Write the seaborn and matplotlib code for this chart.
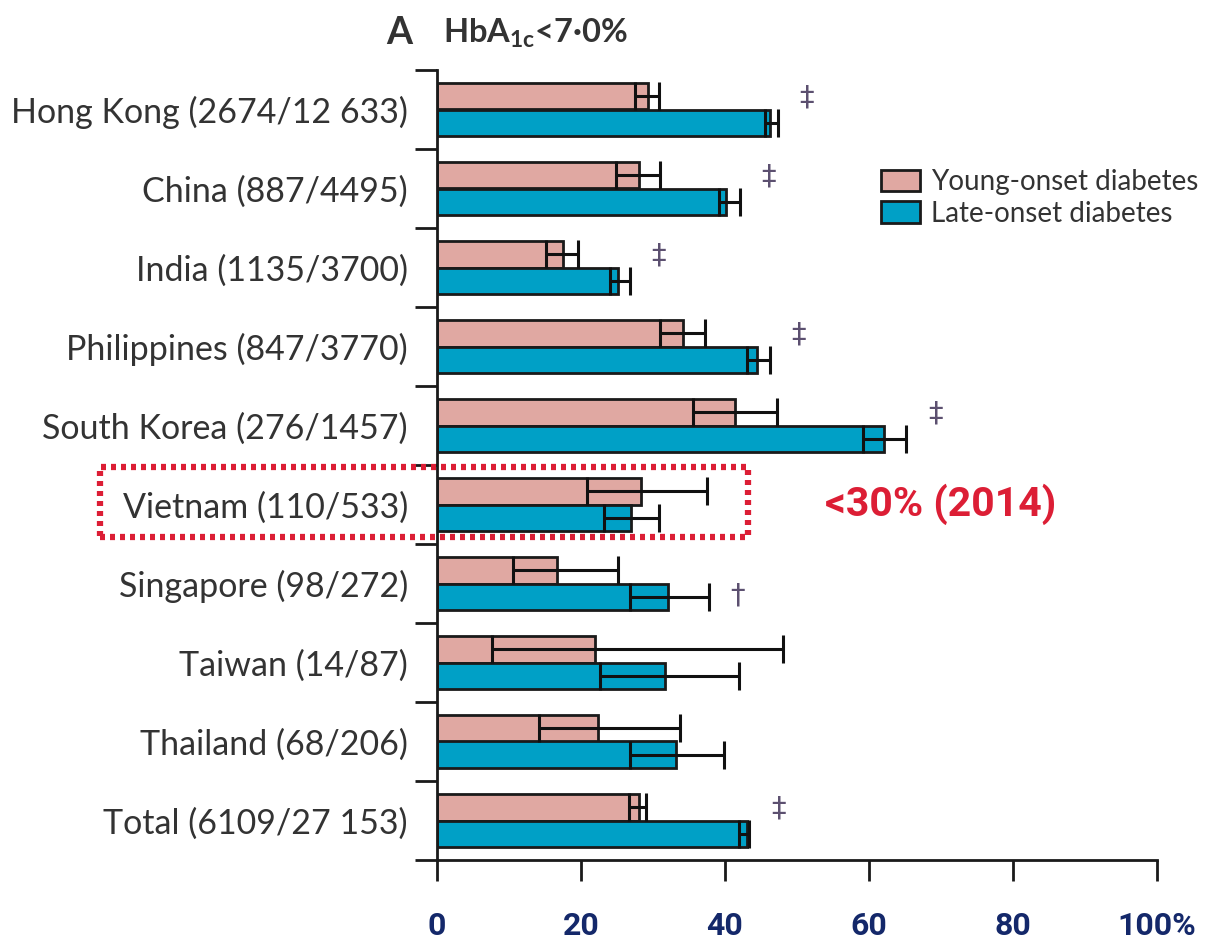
import numpy as np
import pandas as pd
import seaborn as sns
import matplotlib.pyplot as plt
from matplotlib.patches import Patch, Rectangle

countries = ["Hong Kong (2674/12 633)", "China (887/4495)", "India (1135/3700)",
             "Philippines (847/3770)", "South Korea (276/1457)", "Vietnam (110/533)",
             "Singapore (98/272)", "Taiwan (14/87)", "Thailand (68/206)",
             "Total (6109/27 153)"]
young = [29.3, 28.0, 17.5, 34.2, 41.4, 28.4, 16.6, 21.9, 22.4, 28.0]
young_lo = [27.5, 24.8, 15.2, 31.0, 35.6, 20.9, 10.5, 7.7, 14.1, 26.6]
young_hi = [30.8, 31.0, 19.6, 37.2, 47.2, 37.5, 25.1, 48.1, 33.7, 29.0]
late = [46.3, 40.2, 25.2, 44.4, 62.1, 27.0, 32.1, 31.6, 33.2, 43.0]
late_lo = [45.6, 39.1, 24.0, 43.0, 59.2, 23.2, 26.8, 22.7, 26.8, 41.9]
late_hi = [47.3, 42.1, 26.8, 46.2, 65.2, 30.9, 37.8, 41.9, 39.8, 43.4]
sig = ["‡", "‡", "‡", "‡", "‡", "", "†", "", "", "‡"]
groups = ["Young-onset diabetes", "Late-onset diabetes"]
xticks = [0, 20, 40, 60, 80, 100]
xticklabels = ["0", "20", "40", "60", "80", "100%"]

PINK = "#e0a8a2"
BLUE = "#00a0c6"
TXT = "#333333"
NAVY = "#14286a"
RED = "#dc1e35"

sns.set_style("white")
plt.rcParams['font.family'] = ['Lato', 'DejaVu Sans']

df = pd.DataFrame({
    "country": countries * 2,
    "value": young + late,
    "group": [groups[0]] * len(countries) + [groups[1]] * len(countries),
})

fig = plt.figure(figsize=(12.07, 9.43), dpi=100)
ax = fig.add_axes([437 / 1207, 1 - 860 / 943, 720 / 1207, 790 / 943])

sns.barplot(data=df, y="country", x="value", hue="group", orient="h",
            palette=[PINK, BLUE], saturation=1, width=0.66, edgecolor="#1a1a1a",
            linewidth=2, errorbar=None, ax=ax, legend=False)

pos = np.arange(len(countries))
off = 0.165
for vals, lo, hi, sgn in [(young, young_lo, young_hi, -1), (late, late_lo, late_hi, 1)]:
    vals = np.array(vals)
    err = [vals - np.array(lo), np.array(hi) - vals]
    ax.errorbar(vals, pos + sgn * off, xerr=err, fmt="none", ecolor="#111111",
                elinewidth=2.2, capsize=10, capthick=2.2)

for i, s in enumerate(sig):
    if s:
        yy = pos[i] - 0.15 if s == "‡" else pos[i] + 0.15
        ax.text(max(young_hi[i], late_hi[i]) + 4, yy, s, color="#5c5070",
                fontsize=21, ha="center", va="center", family=["DejaVu Sans"])

ax.set_xlim(0, 100)
ax.set_ylim(len(countries) - 0.5, -0.5)
ax.set_xlabel("")
ax.set_ylabel("")
ax.set_xticks(xticks)
ax.set_xticklabels(xticklabels, color=NAVY, fontsize=23, fontweight="bold",
                   family=["Roboto", "DejaVu Sans"])
ax.set_yticks(pos)
ax.set_yticklabels(countries, color=TXT, fontsize=24.5)
ax.set_yticks(np.arange(-0.5, len(countries), 1), minor=True)
ax.tick_params(left=True, bottom=True)
ax.tick_params(axis="y", which="major", length=0, pad=21)
ax.tick_params(axis="y", which="minor", left=True, length=16, width=2, color="#1a1a1a")
ax.tick_params(axis="x", which="major", length=15, width=2, color="#1a1a1a", pad=22)
for side in ["top", "right"]:
    ax.spines[side].set_visible(False)
for side in ["left", "bottom"]:
    ax.spines[side].set_linewidth(2)
    ax.spines[side].set_color("#1a1a1a")

handles = [Patch(facecolor=PINK, edgecolor="#1a1a1a", linewidth=2),
           Patch(facecolor=BLUE, edgecolor="#1a1a1a", linewidth=2)]
fig.legend(handles, groups, loc="upper left", bbox_to_anchor=(870 / 1207, 1 - 158 / 943),
           frameon=False, fontsize=20, labelcolor=TXT, handlelength=1.4,
           handleheight=0.8, handletextpad=0.4, labelspacing=0.2, borderaxespad=0)

fig.text(386 / 1207, 1 - 33 / 943, "A", fontsize=27, fontweight="bold", color=TXT, va="center")
fig.text(443 / 1207, 1 - 33 / 943, r"HbA$_{\mathregular{1c}}$<7·0%", fontsize=23.5,
         fontweight="bold", color=TXT, va="center")

fig.patches.append(Rectangle((100 / 1207, 1 - 537 / 943), 648 / 1207, 70 / 943,
                             transform=fig.transFigure, fill=False, edgecolor=RED,
                             linewidth=4.5, linestyle=(0, (0.8, 0.8))))
fig.text(825 / 1207, 1 - 504 / 943, "<30% (2014)", color=RED, fontsize=29.5,
         fontweight="bold", va="center", family=["Roboto", "DejaVu Sans"])

fig.savefig("out.png", dpi=100)
